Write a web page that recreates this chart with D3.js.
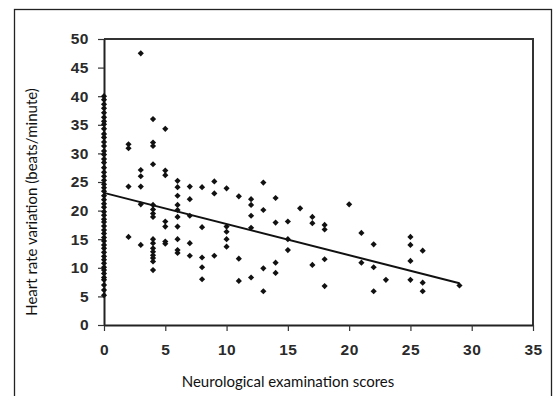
<!DOCTYPE html>
<html>
<head>
<meta charset="utf-8">
<script src="https://cdn.jsdelivr.net/npm/d3@7"></script>
<style>
body { margin: 0; background: #fff; }
svg { display: block; }
.tick text { font-family: "Liberation Sans", Arial, sans-serif; font-weight: bold; font-size: 15.5px; letter-spacing: 0.5px; fill: #2a2a2a; }
.title { font-family: Lato, "Open Sans", sans-serif; font-size: 15px; fill: #111; }
</style>
</head>
<body>
<svg id="chart" width="554" height="396"></svg>
<script>
// tick values for both axes
var xTicks = [0, 5, 10, 15, 20, 25, 30, 35];
var yTicks = [0, 5, 10, 15, 20, 25, 30, 35, 40, 45, 50];

// patients with a score of 0 (the dense column on the y axis)
var zeroScoreHrv = [40, 39.4, 38.6, 37.9, 37.1, 36.3, 35.6, 35.1, 34.3, 33.4, 32.8, 32, 31.3,
	30.4, 29.8, 29, 28.4, 27.5, 26.7, 26, 25.3, 24.6, 24, 23.4, 22.6, 21.9, 21.2, 20.6,
	19.8, 19.2, 18.5, 18, 17.3, 16.6, 16, 15.3, 14.7, 14, 13.4, 12.7, 12, 11.4, 10.8,
	10.1, 9.6, 9, 8.3, 7.9, 7, 6.1, 5.2];

// remaining patients: [score, hrv]
var scoredPatients = [
	[2, 31.6], [2, 30.9], [2, 24.2], [2, 15.4],
	[3, 47.5], [3, 27.1], [3, 26], [3, 24.2], [3, 21.1], [3, 14],
	[4, 36], [4, 31.9], [4, 31.3], [4, 28.1], [4, 21], [4, 20.2], [4, 19.5], [4, 18.9],
	[4, 15], [4, 14.3], [4, 13.4], [4, 12.8], [4, 12.2], [4, 11.7], [4, 11.1], [4, 9.6],
	[5, 34.3], [5, 27], [5, 26.2], [5, 18.1], [5, 17.2], [5, 14.6], [5, 14.2],
	[6, 25.2], [6, 24.1], [6, 22.6], [6, 21], [6, 20.1], [6, 18.9], [6, 17.2], [6, 15], [6, 13.1], [6, 12.6],
	[7, 24.2], [7, 22], [7, 19.1], [7, 14.3], [7, 12.1],
	[8, 24.1], [8, 17.1], [8, 11.8], [8, 10.1], [8, 8],
	[9, 25.1], [9, 23], [9, 12.1],
	[10, 23.9], [10, 17.2], [10, 16.3], [10, 15], [10, 13.7],
	[11, 22.5], [11, 11.6], [11, 7.7],
	[12, 22], [12, 21], [12, 19.1], [12, 17], [12, 8.3],
	[13, 24.9], [13, 20.1], [13, 9.9], [13, 5.9],
	[14, 22.2], [14, 17.9], [14, 10.9], [14, 9.1],
	[15, 18.1], [15, 15], [15, 13.1],
	[16, 20.4],
	[17, 18.9], [17, 17.8], [17, 10.5],
	[18, 17.5], [18, 16.7], [18, 11.5], [18, 6.8],
	[20, 21.1],
	[21, 16.1], [21, 10.9],
	[22, 14.1], [22, 10.1], [22, 5.9],
	[23, 7.9],
	[25, 15.4], [25, 14], [25, 11.2], [25, 7.9],
	[26, 13], [26, 7.4], [26, 5.9],
	[29, 6.9]
];

// fitted line: [score, hrv] at both ends
var trendLine = [[0, 23.1], [29, 7.3]];

var svg = d3.select("#chart");
var margin = {top: 39, left: 104},
	width = 429,
	height = 286;

// outer frame of the figure
svg.append("rect")
	.attr("x", 14.5).attr("y", 9.5)
	.attr("width", 537).attr("height", 400)
	.attr("fill", "none")
	.attr("stroke", "#222")
	.attr("stroke-width", 1.3);

var x = d3.scaleLinear().domain([0, 35]).range([0, width]);
var y = d3.scaleLinear().domain([0, 50]).range([height, 0]);

var g = svg.append("g").attr("transform", `translate(${margin.left},${margin.top})`);

// plot box (top and right edges)
g.append("path")
	.attr("d", `M0,0H${width}V${height}`)
	.attr("fill", "none")
	.attr("stroke", "#333")
	.attr("stroke-width", 2);

var xAxis = g.append("g")
	.attr("transform", `translate(0,${height})`)
	.call(d3.axisBottom(x).tickValues(xTicks).tickSize(6).tickPadding(13).tickSizeOuter(0));

var yAxis = g.append("g")
	.call(d3.axisLeft(y).tickValues(yTicks).tickSize(6).tickPadding(9).tickSizeOuter(0));

[xAxis, yAxis].forEach(a => {
	a.select(".domain").attr("stroke", "#222").attr("stroke-width", 2);
	a.selectAll(".tick line").attr("stroke", "#333").attr("stroke-width", 1.2);
	a.attr("font-family", null).attr("font-size", null);
});

// all points: the score-0 column plus the rest
var points = zeroScoreHrv.map(v => [0, v]).concat(scoredPatients);

var diamond = d3.symbol().type(d3.symbolSquare).size(19);
g.append("g")
	.selectAll("path")
	.data(points)
	.enter().append("path")
		.attr("d", diamond)
		.attr("transform", d => `translate(${x(d[0])},${y(d[1])}) rotate(45)`)
		.attr("fill", "#111");

g.append("line")
	.attr("x1", x(trendLine[0][0])).attr("y1", y(trendLine[0][1]))
	.attr("x2", x(trendLine[1][0])).attr("y2", y(trendLine[1][1]))
	.attr("stroke", "#111")
	.attr("stroke-width", 2);

svg.append("text")
	.attr("class", "title")
	.attr("x", 288).attr("y", 387)
	.attr("text-anchor", "middle")
	.text("Neurological examination scores");

svg.append("text")
	.attr("class", "title")
	.attr("transform", "translate(37,202) rotate(-90)")
	.attr("text-anchor", "middle")
	.text("Heart rate variation (beats/minute)");
</script>
</body>
</html>
